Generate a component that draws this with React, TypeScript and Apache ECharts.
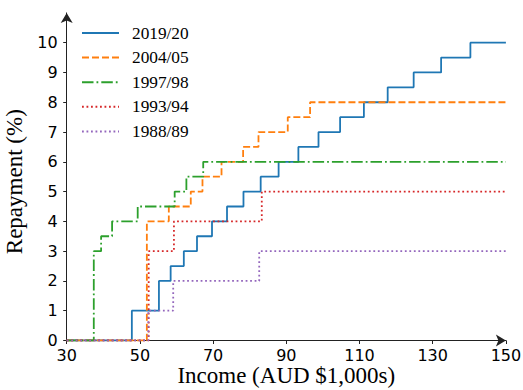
import React, { useEffect, useRef } from "react";
import * as echarts from "echarts";

const xTicks = [30, 50, 70, 90, 110, 130, 150];
const yTicks = [0, 1, 2, 3, 4, 5, 6, 7, 8, 9, 10];
const seriesNames = ["2019/20", "2004/05", "1997/98", "1993/94", "1988/89"];

// thresholds (AUD $1,000s) at which each repayment rate (%) starts
const th2019 = [47.8, 55.2, 58.4, 62.0, 65.6, 69.7, 73.8, 78.3, 83.0, 87.9, 93.3, 98.8, 104.7, 111.2, 117.7, 124.8, 132.3, 140.3];
const rate2019 = [1, 2, 2.5, 3, 3.5, 4, 4.5, 5, 5.5, 6, 6.5, 7, 7.5, 8, 8.5, 9, 9.5, 10];
const th2004 = [51.9, 57.9, 63.9, 67.1, 72.3, 78.2, 82.4, 90.4, 96.5];
const rate2004 = [4, 4.5, 5, 5.5, 6, 6.5, 7, 7.5, 8];
const th1997 = [37.4, 39.4, 42.4, 49.4, 59.5, 62.7, 67.3];
const rate1997 = [3, 3.5, 4, 4.5, 5, 5.5, 6];
const th1993 = [52.4, 59.3, 83.3];
const rate1993 = [3, 4, 5];
const th1988 = [52.3, 59.1, 82.6];
const rate1988 = [1, 2, 3];

const X_MIN = 30;
const X_MAX = 150;

function steps(th: number[], rates: number[]) {
  const pts: number[][] = [[X_MIN, 0]];
  th.forEach((t, i) => pts.push([t, rates[i]]));
  pts.push([X_MAX, rates[rates.length - 1]]);
  return pts;
}

const colors = ["#1f77b4", "#ff7f0e", "#2ca02c", "#d62728", "#9467bd"];
const dashes: any[] = ["solid", [7, 3], [11.5, 3, 1.8, 3], [1.8, 2.7], [1.8, 2.7]];
const dataSets = [
  steps(th2019, rate2019),
  steps(th2004, rate2004),
  steps(th1997, rate1997),
  steps(th1993, rate1993),
  steps(th1988, rate1988),
];

export default function App() {
  const ref = useRef<HTMLDivElement>(null);
  useEffect(() => {
    if (!ref.current) return;
    const chart = echarts.init(ref.current, undefined, { renderer: "svg" });
    const serif = "'Liberation Serif', 'Times New Roman', serif";
    const sans = "'DejaVu Sans', sans-serif";
    chart.setOption({
      animation: false,
      backgroundColor: "#ffffff",
      grid: { left: 66.7, right: 17.1, top: 12.9, bottom: 49.5, containLabel: false, outerBoundsMode: "none" },
      legend: {
        orient: "vertical",
        left: 81,
        top: 24.5,
        padding: 0,
        itemWidth: 37,
        itemHeight: 17,
        itemGap: 7.6,
        data: seriesNames,
        itemStyle: { opacity: 0, borderWidth: 0 },
        textStyle: { fontFamily: serif, fontSize: 17.3, color: "#000", padding: [0, 0, 0, 8] },
      },
      xAxis: {
        type: "value",
        min: X_MIN,
        max: X_MAX,
        interval: 20,
        name: "Income (AUD $1,000s)",
        nameLocation: "middle",
        nameMoveOverlap: false,
        nameGap: 24,
        nameTextStyle: { fontFamily: serif, fontSize: 23, color: "#000", lineHeight: 21 },
        axisLine: { show: true, onZero: false, symbol: ["none", "arrow"], symbolSize: [9, 10], lineStyle: { color: "#222", width: 1 } },
        axisTick: { show: true, length: 3.5, customValues: xTicks, lineStyle: { color: "#222" } },
        axisLabel: { fontFamily: sans, fontSize: 16, lineHeight: 16, color: "#000", margin: 6.5, customValues: xTicks },
        splitLine: { show: false },
      },
      yAxis: {
        type: "value",
        min: 0,
        max: 11,
        name: "Repayment (%)",
        nameLocation: "middle",
        nameGap: 34,
        nameTextStyle: { fontFamily: serif, fontSize: 23, color: "#000", padding: [0, 10, 0, 0] },
        axisLine: { show: true, onZero: false, symbol: ["none", "arrow"], symbolSize: [9, 10], lineStyle: { color: "#222", width: 1 } },
        axisTick: { show: true, length: 3.5, customValues: yTicks, lineStyle: { color: "#222" } },
        axisLabel: { fontFamily: sans, fontSize: 16, color: "#000", margin: 9, customValues: yTicks },
        splitLine: { show: false },
      },
      series: seriesNames.map((name, i) => ({
        name,
        type: "line",
        step: "end",
        symbol: "none",
        data: dataSets[i],
        lineStyle: { color: colors[i], width: 1.8, type: dashes[i], cap: "butt" },
        itemStyle: { color: colors[i] },
      })),
    });
    return () => chart.dispose();
  }, []);
  return <div ref={ref} style={{ position: "absolute", left: 0, top: 0, width: 523, height: 390 }} />;
}
